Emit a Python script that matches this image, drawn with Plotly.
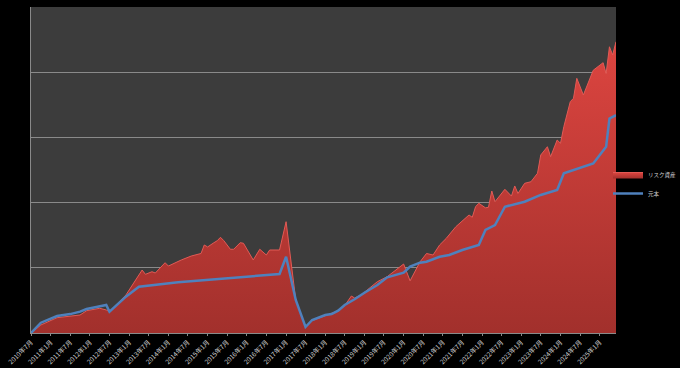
import plotly.graph_objects as go

# リスク資産 (risk assets)
risk_dates = ["2010-07", "2010-10", "2011-03", "2011-07", "2011-10", "2011-12", "2012-04", "2012-06",
              "2012-07", "2012-12", "2013-05", "2013-06", "2013-08", "2013-09", "2013-12", "2014-01",
              "2014-03", "2014-05", "2014-08", "2014-11", "2014-12", "2015-01", "2015-03", "2015-04",
              "2015-05", "2015-06", "2015-08", "2015-09", "2015-11", "2015-12", "2016-03", "2016-05",
              "2016-07", "2016-08", "2016-11", "2017-01", "2017-04", "2017-07", "2017-09", "2018-01",
              "2018-03", "2018-05", "2018-07", "2018-09", "2018-10", "2018-12", "2019-05", "2019-08",
              "2020-01", "2020-03", "2020-06", "2020-08", "2020-10", "2020-12", "2021-02", "2021-05",
              "2021-09", "2021-10", "2021-11", "2021-12", "2022-02", "2022-03", "2022-04", "2022-05",
              "2022-08", "2022-10", "2022-11", "2022-12", "2023-02", "2023-04", "2023-06", "2023-07",
              "2023-09", "2023-10", "2023-12", "2024-01", "2024-02", "2024-04", "2024-05", "2024-06",
              "2024-08", "2024-11", "2025-02", "2025-03", "2025-04", "2025-05", "2025-06"]
risk_values = [0.0, 0.123, 0.235, 0.26, 0.276, 0.342, 0.379, 0.353,
               0.327, 0.583, 0.966, 0.90, 0.94, 0.92, 1.078, 1.027,
               1.078, 1.12, 1.18, 1.22, 1.35, 1.32, 1.385, 1.416,
               1.468, 1.416, 1.284, 1.284, 1.385, 1.376, 1.12, 1.284,
               1.196, 1.273, 1.273, 1.707, 0.506, 0.092, 0.19, 0.27,
               0.30, 0.34, 0.42, 0.567, 0.537, 0.583, 0.787, 0.864,
               1.058, 0.80, 1.09, 1.22, 1.196, 1.35, 1.452, 1.63,
               1.81, 1.775, 1.937, 1.99, 1.92, 1.928, 2.178, 2.014,
               2.204, 2.10, 2.255, 2.14, 2.296, 2.32, 2.45, 2.73,
               2.857, 2.704, 2.96, 2.91, 3.164, 3.548, 3.60, 3.906,
               3.65, 4.03, 4.146, 3.98, 4.39, 4.264, 4.468]

# 元本 (principal)
principal_dates = ["2010-07", "2010-10", "2011-03", "2011-07", "2011-10", "2011-12", "2012-03", "2012-06",
                   "2012-07", "2012-12", "2013-04", "2014-04", "2016-11", "2017-01", "2017-04", "2017-07",
                   "2017-09", "2018-01", "2018-03", "2018-05", "2018-07", "2018-10", "2019-01", "2019-05",
                   "2019-08", "2020-01", "2020-03", "2020-06", "2020-08", "2020-12", "2021-03", "2021-07",
                   "2021-12", "2022-02", "2022-05", "2022-07", "2022-08", "2023-02", "2023-07", "2023-12",
                   "2024-02", "2024-11", "2025-02", "2025-03", "2025-04", "2025-06"]
principal_values = [0.0, 0.158, 0.26, 0.29, 0.327, 0.368, 0.40, 0.43,
                    0.327, 0.557, 0.71, 0.78, 0.905, 1.17, 0.506, 0.092,
                    0.20, 0.276, 0.29, 0.342, 0.43, 0.517, 0.618, 0.736,
                    0.854, 0.925, 1.017, 1.078, 1.094, 1.17, 1.196, 1.273,
                    1.35, 1.58, 1.656, 1.836, 1.937, 2.014, 2.117, 2.193,
                    2.45, 2.60, 2.807, 2.857, 3.29, 3.34]

tick_dates = ["2010-07", "2011-01", "2011-07", "2012-01", "2012-07", "2013-01", "2013-07", "2014-01",
              "2014-07", "2015-01", "2015-07", "2016-01", "2016-07", "2017-01", "2017-07", "2018-01",
              "2018-07", "2019-01", "2019-07", "2020-01", "2020-07", "2021-01", "2021-07", "2022-01",
              "2022-07", "2023-01", "2023-07", "2024-01", "2024-07", "2025-01"]
tick_labels = ["2010年7月", "2011年1月", "2011年7月", "2012年1月", "2012年7月", "2013年1月", "2013年7月", "2014年1月",
               "2014年7月", "2015年1月", "2015年7月", "2016年1月", "2016年7月", "2017年1月", "2017年7月", "2018年1月",
               "2018年7月", "2019年1月", "2019年7月", "2020年1月", "2020年7月", "2021年1月", "2021年7月", "2022年1月",
               "2022年7月", "2023年1月", "2023年7月", "2024年1月", "2024年7月", "2025年1月"]

font_family = "Noto Sans CJK JP, Noto Sans, sans-serif"

fig = go.Figure()
fig.add_trace(go.Scatter(
    x=risk_dates, y=risk_values, name="リスク資産", mode="lines",
    line=dict(color="#e25a55", width=1),
    fill="tozeroy",
    fillgradient=dict(type="vertical", start=0, stop=4.5,
                      colorscale=[[0, "#a2302c"], [1, "#dd4540"]]),
))
fig.add_trace(go.Scatter(
    x=principal_dates, y=principal_values, name="元本", mode="lines",
    line=dict(color="#4f81bd", width=2.5),
))

fig.update_layout(
    width=680, height=368,
    paper_bgcolor="#000000", plot_bgcolor="#3c3c3c",
    margin=dict(l=31, r=64, t=7, b=35, autoexpand=False),
    font=dict(family=font_family, color="#d0d0d0", size=8),
    showlegend=True,
    legend=dict(xref="container", yref="container", x=608 / 680, y=0.5,
                xanchor="left", yanchor="middle",
                font=dict(size=5.5, color="#d0d0d0"), bgcolor="rgba(0,0,0,0)",
                tracegroupgap=0, itemwidth=30, borderwidth=0),
)
fig.update_xaxes(
    type="date", range=["2010-07-01", "2025-06-01"], automargin=False,
    tickvals=tick_dates, ticktext=tick_labels, tickangle=-45,
    tickfont=dict(size=6.5, color="#d0d0d0"),
    ticks="outside", ticklen=2, tickcolor="#8a8a8a",
    showgrid=False, showline=True, linecolor="#8a8a8a", linewidth=1,
    zeroline=False,
)
fig.update_yaxes(
    range=[0, 5], dtick=1, showticklabels=False, automargin=False,
    showgrid=True, gridcolor="#8a8a8a", gridwidth=1,
    showline=True, linecolor="#8a8a8a", linewidth=1,
    zeroline=False, ticks="",
)

fig.write_html(
    "out.html",
    config={"displayModeBar": False},
    post_script="document.body.style.margin='0';document.body.style.overflow='hidden';document.body.style.background='#000';",
)
